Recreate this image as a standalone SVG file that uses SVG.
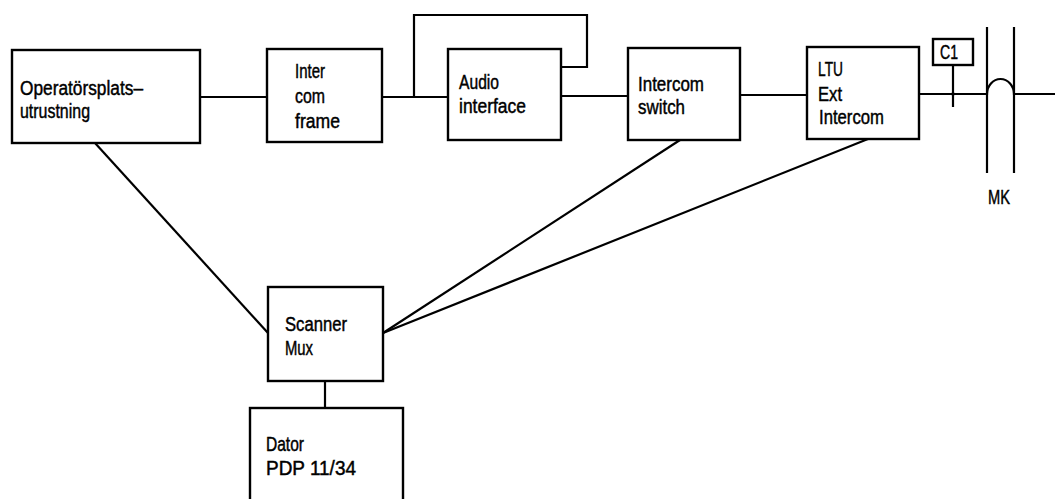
<svg xmlns="http://www.w3.org/2000/svg" width="1055" height="499" viewBox="0 0 1055 499">
  <style>
    .box { fill: #fff; stroke: #000; stroke-width: 2.4; }
    .wire { fill: none; stroke: #000; stroke-width: 2.2; }
    .lbl { font-family: "Liberation Sans", Arial, sans-serif; font-size: 20px; fill: #000; stroke: #000; stroke-width: 0.45; }
  </style>
  <rect width="1055" height="499" fill="#fff"/>

  <!-- connectors -->
  <g id="connectors">
    <line class="wire" x1="200" y1="97" x2="267" y2="97"/>
    <line class="wire" x1="382" y1="97" x2="448" y2="97"/>
    <path class="wire" d="M414,97 V15 H587 V67 H561"/>
    <line class="wire" x1="561" y1="96" x2="628" y2="96"/>
    <line class="wire" x1="740" y1="95" x2="807" y2="95"/>
    <path class="wire" d="M919,94 H987 A13.5,15 0 0 1 1014,94 H1055"/>
    <line class="wire" x1="95" y1="143" x2="268" y2="333"/>
    <line class="wire" x1="383" y1="333" x2="680" y2="140"/>
    <line class="wire" x1="383" y1="333" x2="868" y2="139"/>
    <line class="wire" x1="325" y1="381" x2="325" y2="408"/>
  </g>

  <!-- MK: line crossing -->
  <g id="mk">
    <line class="wire" x1="987" y1="27" x2="987" y2="173"/>
    <line class="wire" x1="1014" y1="27" x2="1014" y2="173"/>
    <text class="lbl" x="988" y="204" textLength="22" lengthAdjust="spacingAndGlyphs">MK</text>
  </g>

  <!-- C1 -->
  <g id="c1">
    <rect class="box" x="933" y="39" width="40" height="26"/>
    <line class="wire" x1="953" y1="65" x2="953" y2="107"/>
    <circle cx="953" cy="94" r="1.8" fill="#000"/>
    <text class="lbl" x="940" y="59" textLength="18" lengthAdjust="spacingAndGlyphs">C1</text>
  </g>

  <g id="operatorsplats">
    <rect class="box" x="12" y="50" width="188" height="93"/>
    <text class="lbl" x="20" y="95" textLength="123" lengthAdjust="spacingAndGlyphs">Operatörsplats–</text>
    <text class="lbl" x="20" y="118" textLength="70" lengthAdjust="spacingAndGlyphs">utrustning</text>
  </g>

  <g id="intercom-frame">
    <rect class="box" x="267" y="49" width="115" height="93"/>
    <text class="lbl" x="295" y="78" textLength="30" lengthAdjust="spacingAndGlyphs">Inter</text>
    <text class="lbl" x="295" y="103" textLength="30" lengthAdjust="spacingAndGlyphs">com</text>
    <text class="lbl" x="295" y="128" textLength="45" lengthAdjust="spacingAndGlyphs">frame</text>
  </g>

  <g id="audio-interface">
    <rect class="box" x="448" y="49" width="113" height="91"/>
    <text class="lbl" x="459" y="89" textLength="40" lengthAdjust="spacingAndGlyphs">Audio</text>
    <text class="lbl" x="459" y="113" textLength="67" lengthAdjust="spacingAndGlyphs">interface</text>
  </g>

  <g id="intercom-switch">
    <rect class="box" x="628" y="48" width="112" height="92"/>
    <text class="lbl" x="638" y="91" textLength="66" lengthAdjust="spacingAndGlyphs">Intercom</text>
    <text class="lbl" x="638" y="114" textLength="47" lengthAdjust="spacingAndGlyphs">switch</text>
  </g>

  <g id="ltu">
    <rect class="box" x="807" y="47" width="112" height="92"/>
    <text class="lbl" x="818" y="76" textLength="25" lengthAdjust="spacingAndGlyphs">LTU</text>
    <text class="lbl" x="818" y="101" textLength="24" lengthAdjust="spacingAndGlyphs">Ext</text>
    <text class="lbl" x="819" y="124" textLength="65" lengthAdjust="spacingAndGlyphs">Intercom</text>
  </g>

  <g id="scanner-mux">
    <rect class="box" x="268" y="287" width="115" height="94"/>
    <text class="lbl" x="285" y="331" textLength="62" lengthAdjust="spacingAndGlyphs">Scanner</text>
    <text class="lbl" x="285" y="355" textLength="28" lengthAdjust="spacingAndGlyphs">Mux</text>
  </g>

  <g id="dator">
    <rect class="box" x="250" y="408" width="153" height="100"/>
    <text class="lbl" x="266" y="451" textLength="38" lengthAdjust="spacingAndGlyphs">Dator</text>
    <text class="lbl" x="266" y="475" textLength="90" lengthAdjust="spacingAndGlyphs">PDP 11/34</text>
  </g>
</svg>
